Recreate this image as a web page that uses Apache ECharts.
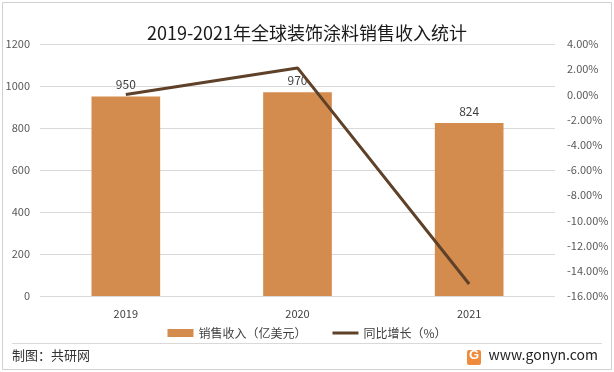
<!DOCTYPE html>
<html><head><meta charset="utf-8">
<script src="https://cdn.jsdelivr.net/npm/echarts@6/dist/echarts.min.js"></script>
<style>html,body{margin:0;padding:0;background:#fff}#c{width:614px;height:372px}</style>
</head><body><div id="c"></div>
<script>
const categories = ['2019', '2020', '2021'];
const salesRevenue = [950, 970, 824];
const growthRate = [0.00, 2.1, -15.05];
const leftTicks = [0, 200, 400, 600, 800, 1000, 1200];
const rightTicks = [-16, -14, -12, -10, -8, -6, -4, -2, 0, 2, 4];

const font = '"Noto Sans CJK SC", "Noto Sans", sans-serif';
const chart = echarts.init(document.getElementById('c'));
chart.setOption({
  animation: false,
  backgroundColor: '#fff',
  title: {
    text: '2019-2021年全球装饰涂料销售收入统计',
    left: 'center', top: 19,
    textStyle: { fontFamily: font, fontSize: 18, fontWeight: 'normal', color: '#1a1a1a' }
  },
  grid: { left: 40, right: 59, top: 44, bottom: 76, containLabel: false },
  legend: {
    bottom: 28, left: 'center', itemGap: 26,
    textStyle: { fontFamily: font, fontSize: 12, color: '#404040' },
    data: [
      { name: '销售收入（亿美元）', icon: 'rect', itemStyle: { color: '#D38B4E' } },
      { name: '同比增长（%）', icon: 'path://M0,0L26,0L26,3L0,3Z', itemStyle: { color: '#5E4128', borderWidth: 0 } }
    ],
    itemWidth: 26, itemHeight: 8
  },
  xAxis: {
    type: 'category', data: categories,
    axisLine: { show: false }, axisTick: { show: false },
    axisLabel: { fontFamily: font, fontSize: 11, color: '#404040', margin: 12 }
  },
  yAxis: [
    {
      type: 'value', min: leftTicks[0], max: leftTicks[leftTicks.length - 1], interval: 200,
      axisLine: { show: false }, axisTick: { show: false },
      axisLabel: { fontFamily: font, fontSize: 11, color: '#595959', margin: 10, formatter: v => String(v) },
      splitLine: { lineStyle: { color: '#d9d9d9', width: 1 } }
    },
    {
      type: 'value', min: rightTicks[0], max: rightTicks[rightTicks.length - 1], interval: 2,
      axisLine: { show: false }, axisTick: { show: false },
      axisLabel: { fontFamily: font, fontSize: 11, color: '#595959', margin: 12,
        formatter: v => v.toFixed(2) + '%' },
      splitLine: { show: false }
    }
  ],
  series: [
    {
      name: '销售收入（亿美元）', type: 'bar', data: salesRevenue, barWidth: '40%',
      itemStyle: { color: '#D38B4E' },
      label: { show: true, position: 'top', distance: 6, fontFamily: font, fontSize: 12, color: '#404040' }
    },
    {
      name: '同比增长（%）', type: 'line', yAxisIndex: 1, data: growthRate,
      symbol: 'none', lineStyle: { color: '#5E4128', width: 3 }, itemStyle: { color: '#5E4128' }
    }
  ],
  graphic: [
    { type: 'rect', shape: { x: 2.5, y: 2.5, width: 609, height: 367 }, style: { fill: 'none', stroke: '#d0d0d0', lineWidth: 1 }, z: 100 },
    { type: 'line', shape: { x1: 12, y1: 343.5, x2: 602, y2: 343.5 }, style: { stroke: '#d9d9d9', lineWidth: 1 }, z: 100 },
    { type: 'text', left: 12, top: 349, style: { text: '制图：共研网', font: '13px ' + font, fill: '#333' }, z: 100 },
    { type: 'text', right: 16, top: 348, style: { text: 'www.gonyn.com', font: '14px ' + font, fill: '#222' }, z: 100 },
    { type: 'rect', shape: { x: 467, y: 350, width: 14, height: 15, r: 2 }, style: { fill: '#F08A3C' }, z: 100 },
    { type: 'text', left: 469, top: 349, style: { text: 'G', font: 'bold 13px sans-serif', fill: '#fff' }, z: 101 }
  ]
});
</script></body></html>
